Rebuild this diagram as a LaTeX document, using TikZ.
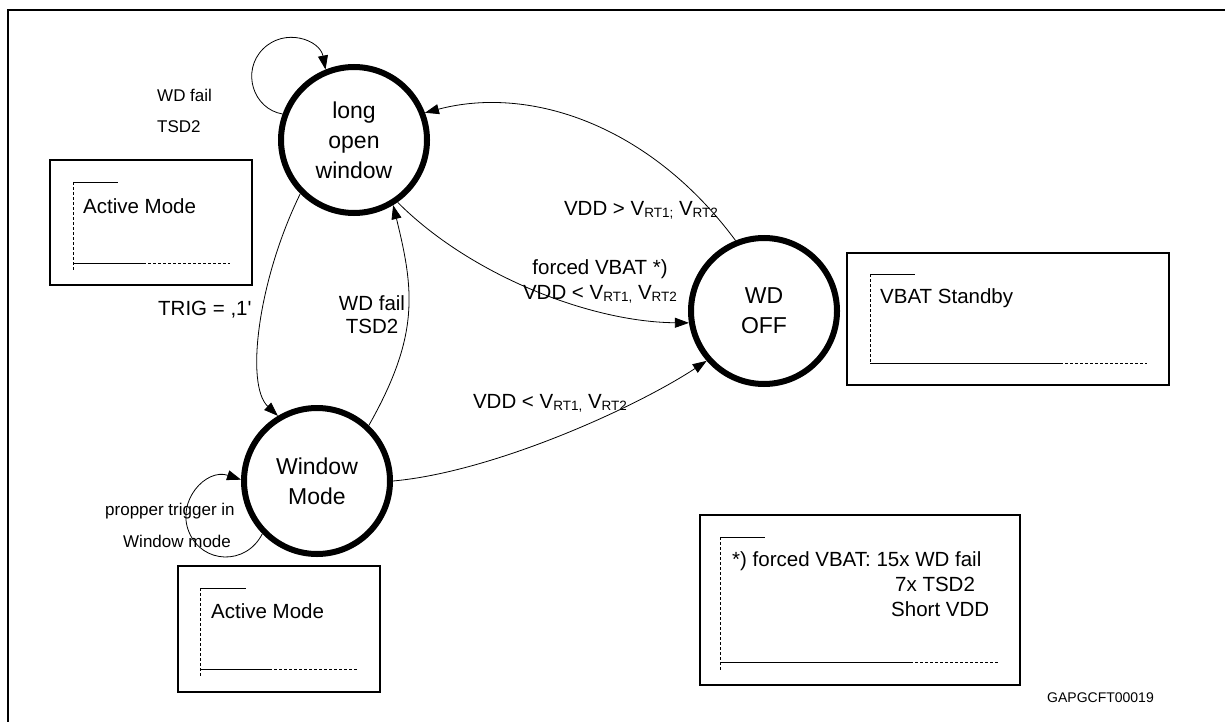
\documentclass[tikz,border=0pt]{standalone}
\usepackage{fontspec}
\setmainfont{Liberation Sans}
\usetikzlibrary{arrows.meta}
\newcommand\subtxt[1]{\raisebox{-2.5pt}{\fontsize{13.5}{14}\selectfont #1}}
\begin{document}
\begin{tikzpicture}[x=1pt,y=-1pt,
  state/.style={circle, draw, line width=6pt, minimum size=146pt, inner sep=0pt, align=center, font=\fontsize{23}{30}\selectfont},
  edge/.style={line width=0.8pt, -{Triangle[length=14pt,width=10pt]}},
  lbl/.style={font=\fontsize{20.5}{24}\selectfont, inner sep=0pt},
  small/.style={font=\fontsize{17}{20}\selectfont, inner sep=0pt},
  boxframe/.style={line width=2pt},
  thinl/.style={line width=0.8pt},
  dashl/.style={line width=0.8pt, dash pattern=on 3pt off 2pt}]
\useasboundingbox (0,0) rectangle (1225,722);
% outer frame
\draw[line width=2pt] (8,722) -- (8,10) -- (1225,10);

% states
\node[state] (low) at (354,140) {long\\open\\window};
\node[state] (win) at (317,481) {Window\\Mode};
\node[state] (off) at (764,311) {WD\\OFF};

% self loop on long open window
\coordinate (lm) at (263,49);
\draw[edge] (low.160) .. controls (253,109) and (241,71) .. (lm) .. controls (285,27) and (320,40) .. (low.112);
\node[small, anchor=base west] at (157,102) {WD fail};
\node[small, anchor=base west] at (157,133) {TSD2};

% self loop on window mode
\coordinate (wm) at (189,532);
\draw[edge] (win.224) .. controls (246,566) and (202,564) .. (wm) .. controls (176,501) and (206,468) .. (win.179);
\node[small, anchor=base west] at (105,515) {propper trigger in};
\node[small, anchor=base west] at (123,547) {Window mode};

% TRIG edge
\draw[edge] (low.225) .. controls (258,280) and (245,385) .. (win.121);
\node[lbl, anchor=base west] at (158,315) {TRIG = ,1\textquotesingle};

% WD fail edge
\draw[edge] (win.47) .. controls (420,335) and (414,290) .. (low.-59);
\node[lbl, anchor=base] at (372,310) {WD fail};
\node[lbl, anchor=base] at (372,333) {TSD2};

% forced VBAT edge
\draw[edge] (low.-55) .. controls (470,275) and (590,322) .. (off.189);
\node[lbl, anchor=base] at (600,274) {forced VBAT *)};
\node[lbl, anchor=base] at (600,299) {VDD < V\subtxt{RT1,} V\subtxt{RT2}};

% VDD > edge
\draw[edge] (off.112) .. controls (650,125) and (530,85) .. (low.21);
\node[lbl, anchor=base] at (641,215) {VDD > V\subtxt{RT1;} V\subtxt{RT2}};

% Window mode -> WD OFF
\draw[edge] (win.0) .. controls (493,472) and (635,408) .. (off.221);
\node[lbl, anchor=base] at (550,408) {VDD < V\subtxt{RT1,} V\subtxt{RT2}};

% box 1: Active Mode (top)
\draw[boxframe] (50,160) rectangle (252,285);
\draw[thinl] (73,182) -- (118,182);
\draw[dashl] (73,182) -- (73,270);
\draw[thinl] (73,263) -- (143,263);
\draw[dashl] (143,263) -- (230,263);
\node[lbl, anchor=base west] at (83,213) {Active Mode};

% box 2: Active Mode (bottom)
\draw[boxframe] (178,566) rectangle (380,692);
\draw[thinl] (200,588) -- (246,588);
\draw[dashl] (200,588) -- (200,677);
\draw[thinl] (200,669) -- (269,669);
\draw[dashl] (269,669) -- (358,669);
\node[lbl, anchor=base west] at (211,618) {Active Mode};

% box 3: VBAT Standby
\draw[boxframe] (847,253) rectangle (1169,385);
\draw[thinl] (870,274) -- (915,274);
\draw[dashl] (870,274) -- (870,363);
\draw[thinl] (870,363) -- (1060,363);
\draw[dashl] (1060,363) -- (1147,363);
\node[lbl, anchor=base west] at (880,303) {VBAT Standby};

% box 4: forced VBAT note
\draw[boxframe] (700,515) rectangle (1020,685);
\draw[thinl] (720,537) -- (765,537);
\draw[dashl] (720,537) -- (720,670);
\draw[thinl] (720,662) -- (910,662);
\draw[dashl] (910,662) -- (998,662);
\node[lbl, anchor=base west] at (732,566) {*) forced VBAT: 15x WD fail};
\node[lbl, anchor=base west] at (895,591) {7x TSD2};
\node[lbl, anchor=base west] at (891,616) {Short VDD};

% figure code
\node[font=\fontsize{14}{16}\selectfont, inner sep=0pt, anchor=base west] at (1047,702) {GAPGCFT00019};
\end{tikzpicture}
\end{document}
